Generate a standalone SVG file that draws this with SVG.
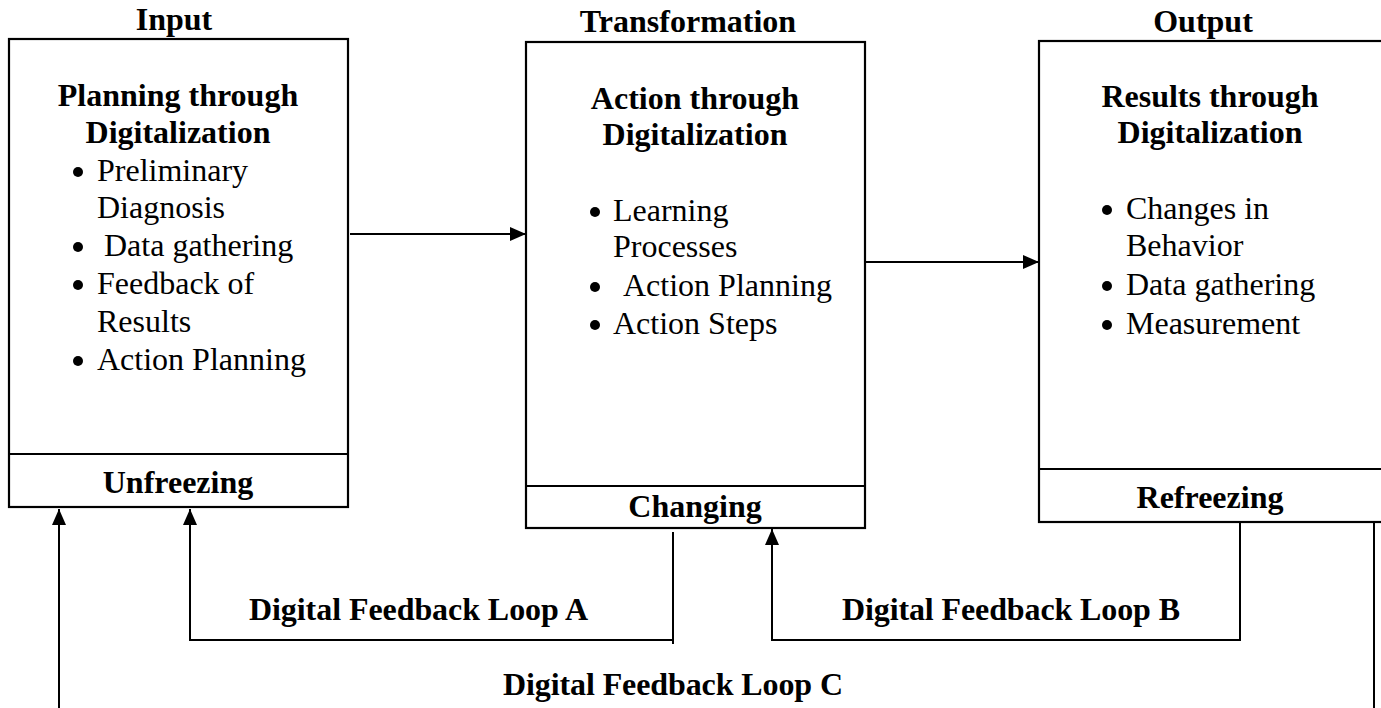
<svg xmlns="http://www.w3.org/2000/svg" width="1381" height="708" viewBox="0 0 1381 708">
  <style>
    text { font-family: "Liberation Serif", "Times New Roman", serif; font-size: 32px; fill: #000; }
    .b { font-weight: bold; }
    .c { text-anchor: middle; }
    .dot { fill: #000; }
    .box { fill: #fff; stroke: #000; stroke-width: 2.2; }
    .ln { fill: none; stroke: #000; stroke-width: 2; }
  </style>
  <defs>
    <marker id="arr" viewBox="0 0 16 14" refX="16" refY="7" markerWidth="16" markerHeight="14" markerUnits="userSpaceOnUse" orient="auto">
      <path d="M0,0 L16,7 L0,14 Z" fill="#000"/>
    </marker>
  </defs>
  <rect width="1381" height="708" fill="#fff"/>

  <!-- Phase titles -->
  <text class="b c" x="174" y="30" font-size="31">Input</text>
  <text class="b c" x="688" y="32" font-size="31">Transformation</text>
  <text class="b c" x="1203" y="32" font-size="31">Output</text>

  <!-- Input: planning / unfreezing -->
  <g id="input">
    <rect class="box" x="9" y="39" width="339" height="468"/>
    <line class="ln" x1="9" y1="454" x2="348" y2="454"/>
    <text class="b c" x="178" y="106">Planning through</text>
    <text class="b c" x="178" y="143">Digitalization</text>
    <circle class="dot" cx="78" cy="172" r="5"/><text x="97" y="181">Preliminary</text>
    <text x="97" y="218">Diagnosis</text>
    <circle class="dot" cx="78" cy="247" r="5"/><text x="104" y="256">Data gathering</text>
    <circle class="dot" cx="78" cy="285" r="5"/><text x="97" y="294">Feedback of</text>
    <text x="97" y="332">Results</text>
    <circle class="dot" cx="78" cy="361" r="5"/><text x="97" y="370">Action Planning</text>
    <text class="b c" x="178" y="493">Unfreezing</text>
  </g>

  <!-- Transformation: action / changing -->
  <g id="transformation">
    <rect class="box" x="526" y="42" width="339" height="486"/>
    <line class="ln" x1="526" y1="486" x2="865" y2="486"/>
    <text class="b c" x="695" y="109">Action through</text>
    <text class="b c" x="695" y="145">Digitalization</text>
    <circle class="dot" cx="595" cy="212" r="5"/><text x="613" y="221">Learning</text>
    <text x="613" y="257">Processes</text>
    <circle class="dot" cx="595" cy="287" r="5"/><text x="623" y="296">Action Planning</text>
    <circle class="dot" cx="595" cy="325" r="5"/><text x="613" y="334">Action Steps</text>
    <text class="b c" x="695" y="517">Changing</text>
  </g>

  <!-- Output: results / refreezing -->
  <g id="output">
    <rect class="box" x="1039" y="41" width="360" height="481"/>
    <line class="ln" x1="1039" y1="469" x2="1399" y2="469"/>
    <text class="b c" x="1210" y="107">Results through</text>
    <text class="b c" x="1210" y="143">Digitalization</text>
    <circle class="dot" cx="1107" cy="210" r="5"/><text x="1126" y="219">Changes in</text>
    <text x="1126" y="256">Behavior</text>
    <circle class="dot" cx="1107" cy="286" r="5"/><text x="1126" y="295">Data gathering</text>
    <circle class="dot" cx="1107" cy="325" r="5"/><text x="1126" y="334">Measurement</text>
    <text class="b c" x="1210" y="508">Refreezing</text>
  </g>

  <!-- Flow and feedback connectors -->
  <g id="connectors">
    <line class="ln" x1="350" y1="234" x2="526" y2="234" marker-end="url(#arr)"/>
    <line class="ln" x1="865" y1="262" x2="1039" y2="262" marker-end="url(#arr)"/>
    <!-- loop A: changing back to unfreezing -->
    <polyline class="ln" points="673,532 673,640 190,640 190,509" marker-end="url(#arr)"/>
    <line class="ln" x1="673" y1="640" x2="673" y2="644"/>
    <!-- loop B: refreezing back to changing -->
    <polyline class="ln" points="1240,522 1240,640 772,640 772,529" marker-end="url(#arr)"/>
    <!-- loop C: refreezing back to unfreezing -->
    <line class="ln" x1="1374" y1="522" x2="1374" y2="708"/>
    <line class="ln" x1="59" y1="708" x2="59" y2="509" marker-end="url(#arr)"/>
    <text class="b" x="249" y="620" textLength="339" lengthAdjust="spacing">Digital Feedback Loop A</text>
    <text class="b" x="842" y="620" textLength="338" lengthAdjust="spacing">Digital Feedback Loop B</text>
    <text class="b" x="503" y="695" textLength="340" lengthAdjust="spacing">Digital Feedback Loop C</text>
  </g>
</svg>
